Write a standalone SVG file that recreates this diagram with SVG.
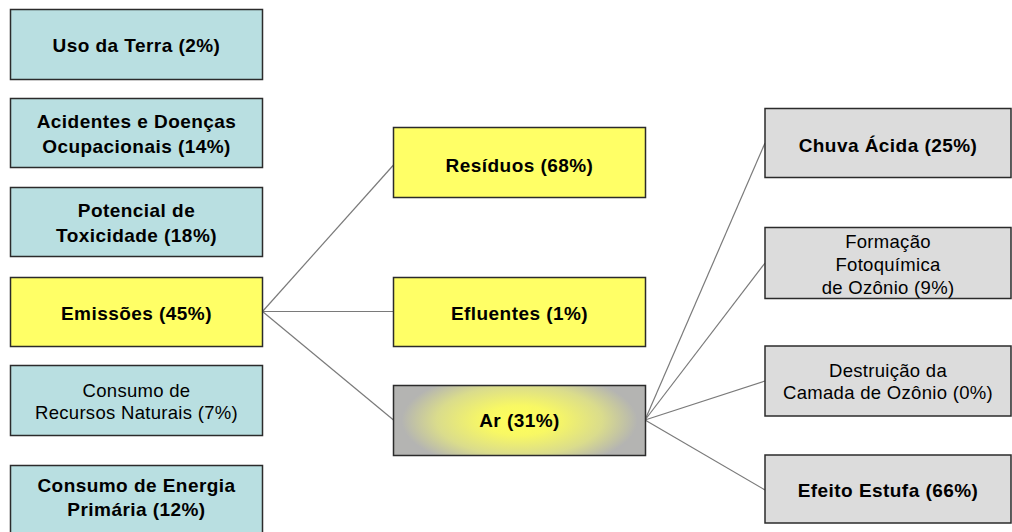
<svg xmlns="http://www.w3.org/2000/svg" width="1012" height="532" viewBox="0 0 1012 532">
<defs>
<radialGradient id="arGrad" gradientUnits="userSpaceOnUse" cx="0" cy="0" r="1" gradientTransform="translate(519.5 420.5) scale(118 50)">
<stop offset="0" stop-color="#ffff5a"/>
<stop offset="0.3" stop-color="#f8f864"/>
<stop offset="0.7" stop-color="#dadc8c"/>
<stop offset="1" stop-color="#b4b4b2"/>
</radialGradient>
<style>
rect{stroke:#2b2b2b;stroke-width:1.5}
.blue{fill:#b9dfe1}
.yellow{fill:#ffff66}
.gray{fill:#dcdcdc}
.ar{fill:url(#arGrad)}
text{font-family:"Liberation Sans",Arial,sans-serif;fill:#000;text-anchor:middle}
.b{font-weight:bold;font-size:19px;letter-spacing:0.45px}
.r{font-size:18.5px;letter-spacing:0.3px}
.conn line{stroke:#7a7a7a;stroke-width:1.2}
</style>
</defs>
<rect width="1012" height="532" fill="#ffffff" style="stroke:none"/>
<g class="conn" id="connectors">
<line x1="262.5" y1="311.5" x2="393.5" y2="165"/>
<line x1="262.5" y1="311.5" x2="393.5" y2="311.5"/>
<line x1="262.5" y1="311.5" x2="393.5" y2="420"/>
<line x1="645" y1="420" x2="765" y2="143"/>
<line x1="645" y1="420" x2="765" y2="263"/>
<line x1="645" y1="420" x2="765" y2="381"/>
<line x1="645" y1="420" x2="765" y2="490"/>
</g>
<g id="uso">
<rect class="blue" x="10.5" y="9.5" width="252" height="70"/>
<text class="b" x="136.5" y="52">Uso da Terra (2%)</text>
</g>
<g id="acidentes">
<rect class="blue" x="10.5" y="98.5" width="252" height="69"/>
<text class="b" x="136.5" y="128">Acidentes e Doenças</text>
<text class="b" x="136.5" y="153">Ocupacionais (14%)</text>
</g>
<g id="potencial">
<rect class="blue" x="10.5" y="187.5" width="252" height="69"/>
<text class="b" x="136.5" y="217">Potencial de</text>
<text class="b" x="136.5" y="242">Toxicidade (18%)</text>
</g>
<g id="emissoes">
<rect class="yellow" x="10.5" y="277.5" width="252" height="69"/>
<text class="b" x="136.5" y="320">Emissões (45%)</text>
</g>
<g id="recursos">
<rect class="blue" x="10.5" y="365.5" width="252" height="70"/>
<text class="r" x="136.5" y="397">Consumo de</text>
<text class="r" x="136.5" y="419">Recursos Naturais (7%)</text>
</g>
<g id="energia">
<rect class="blue" x="10.5" y="465.5" width="252" height="70"/>
<text class="b" x="136.5" y="492">Consumo de Energia</text>
<text class="b" x="136.5" y="516">Primária (12%)</text>
</g>
<g id="residuos">
<rect class="yellow" x="393.5" y="127.5" width="252" height="70"/>
<text class="b" x="519.5" y="172">Resíduos (68%)</text>
</g>
<g id="efluentes">
<rect class="yellow" x="393.5" y="277.5" width="252" height="69"/>
<text class="b" x="519.5" y="320">Efluentes (1%)</text>
</g>
<g id="ar">
<rect class="ar" x="393.5" y="385.5" width="252" height="70"/>
<text class="b" x="519.5" y="427">Ar (31%)</text>
</g>
<g id="chuva">
<rect class="gray" x="765" y="108.5" width="246" height="69"/>
<text class="b" x="888" y="152">Chuva Ácida (25%)</text>
</g>
<g id="formacao">
<rect class="gray" x="765" y="227.5" width="246" height="71"/>
<text class="r" x="888" y="248">Formação</text>
<text class="r" x="888" y="271">Fotoquímica</text>
<text class="r" x="888" y="294">de Ozônio (9%)</text>
</g>
<g id="destruicao">
<rect class="gray" x="765" y="346" width="246" height="70"/>
<text class="r" x="888" y="377">Destruição da</text>
<text class="r" x="888" y="399">Camada de Ozônio (0%)</text>
</g>
<g id="efeito">
<rect class="gray" x="765" y="455" width="246" height="68"/>
<text class="b" x="888" y="497">Efeito Estufa (66%)</text>
</g>
</svg>
